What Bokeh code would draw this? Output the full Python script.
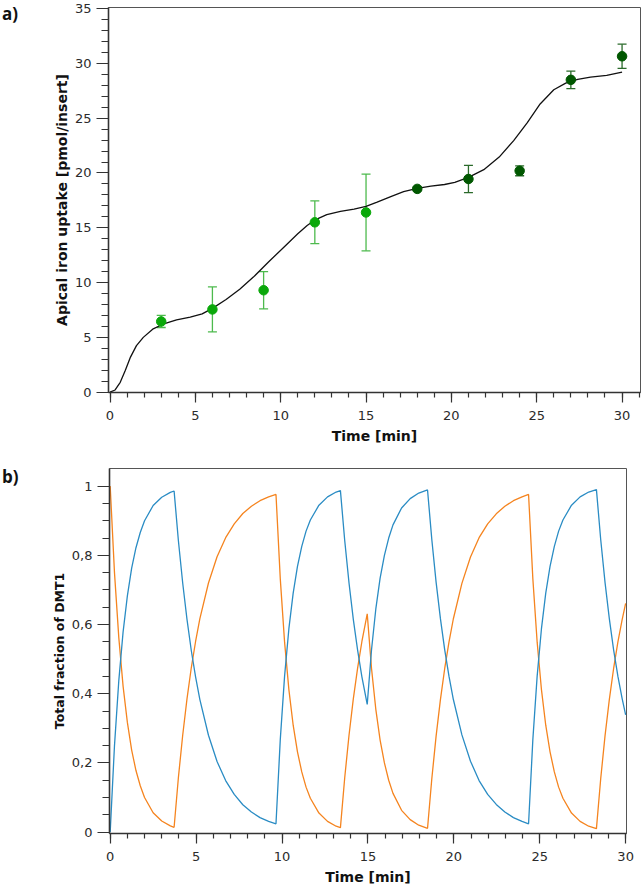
from bokeh.plotting import figure
from bokeh.layouts import column, row
from bokeh.models import (Range1d, SingleIntervalTicker, FixedTicker, Whisker, TeeHead,
                          ColumnDataSource, Div, CustomJSTickFormatter)
from bokeh.embed import file_html
from bokeh.resources import INLINE

# ---------------- data: panel a ----------------
t_early = [3, 6, 9, 12, 15]
uptake_early = [6.45, 7.55, 9.3, 15.5, 16.4]
err_early = [0.55, 2.05, 1.7, 1.95, 3.5]

t_late = [18, 21, 24, 27, 30]
uptake_late = [18.55, 19.45, 20.2, 28.5, 30.65]
err_late = [0.15, 1.25, 0.45, 0.8, 1.1]

t_fit = [0, 0.3, 0.6, 0.9, 1.2, 1.55, 1.95, 2.5, 3.1, 3.9, 4.7, 5.4, 6.0, 6.8, 7.6,
         8.4, 9.3, 10.2, 11.0, 11.55, 12.05, 12.7, 13.5, 14.3, 15.0, 15.65, 16.45, 17.2,
         18.0, 18.8, 19.6, 20.2, 21.0, 21.9, 22.8, 23.65, 24.45, 25.2, 26.0, 26.7, 27.4,
         28.15, 29.1, 30.0]
uptake_fit = [0, 0.2, 0.9, 2.0, 3.2, 4.25, 5.0, 5.75, 6.2, 6.6, 6.85, 7.15, 7.65, 8.45, 9.4,
              10.5, 11.9, 13.25, 14.45, 15.2, 15.75, 16.2, 16.5, 16.7, 16.95, 17.35, 17.85, 18.3,
              18.6, 18.8, 18.95, 19.15, 19.6, 20.3, 21.45, 22.95, 24.6, 26.3, 27.6, 28.2, 28.55,
              28.75, 28.9, 29.2]

# ---------------- data: panel b ----------------
t_model = [0, 0.25, 0.5, 0.75, 1.0, 1.25, 1.5, 1.75, 2.0, 2.5, 3.0, 3.5, 3.72,
           3.97, 4.22, 4.47, 4.72, 4.97, 5.22, 5.72, 6.22, 6.72, 7.22, 7.72, 8.22, 8.72, 9.22, 9.65,
           9.9, 10.15, 10.4, 10.65, 10.9, 11.15, 11.4, 11.65, 12.15, 12.65, 13.15, 13.4,
           13.65, 13.9, 14.15, 14.4, 14.65, 14.96,
           15.21, 15.46, 15.71, 15.96, 16.21, 16.46, 16.96, 17.46, 17.96, 18.47,
           18.72, 18.97, 19.22, 19.47, 19.72, 19.97, 20.47, 20.97, 21.47, 21.97, 22.47, 22.97,
           23.47, 23.97, 24.35,
           24.6, 24.85, 25.1, 25.35, 25.6, 25.85, 26.1, 26.35, 26.85, 27.35, 27.85, 28.3,
           28.55, 28.8, 29.05, 29.3, 29.55, 29.8, 30.0]
frac_blue = [0.000, 0.250, 0.437, 0.578, 0.683, 0.763, 0.822, 0.866, 0.900, 0.944, 0.968, 0.982, 0.986,
             0.842, 0.720, 0.615, 0.525, 0.449, 0.383, 0.280, 0.204, 0.149, 0.109, 0.079, 0.058, 0.042, 0.031, 0.024,
             0.268, 0.451, 0.588, 0.691, 0.768, 0.826, 0.870, 0.902, 0.945, 0.969, 0.983, 0.987,
             0.843, 0.720, 0.615, 0.526, 0.449, 0.369,
             0.527, 0.645, 0.734, 0.800, 0.850, 0.888, 0.937, 0.964, 0.980, 0.989,
             0.845, 0.722, 0.617, 0.527, 0.450, 0.384, 0.281, 0.205, 0.149, 0.109, 0.080, 0.058,
             0.042, 0.031, 0.024,
             0.268, 0.451, 0.588, 0.691, 0.768, 0.826, 0.870, 0.902, 0.945, 0.969, 0.983, 0.990,
             0.845, 0.722, 0.617, 0.527, 0.450, 0.385, 0.339]
frac_orange = [1.000, 0.750, 0.563, 0.422, 0.317, 0.237, 0.178, 0.134, 0.100, 0.056, 0.032, 0.018, 0.014,
               0.158, 0.280, 0.385, 0.475, 0.551, 0.617, 0.720, 0.796, 0.851, 0.891, 0.921, 0.942, 0.958, 0.969, 0.976,
               0.732, 0.549, 0.412, 0.309, 0.232, 0.174, 0.130, 0.098, 0.055, 0.031, 0.017, 0.013,
               0.157, 0.280, 0.385, 0.474, 0.551, 0.631,
               0.473, 0.355, 0.266, 0.200, 0.150, 0.112, 0.063, 0.036, 0.020, 0.011,
               0.155, 0.278, 0.383, 0.473, 0.550, 0.616, 0.719, 0.795, 0.851, 0.891, 0.920, 0.942,
               0.958, 0.969, 0.976,
               0.732, 0.549, 0.412, 0.309, 0.232, 0.174, 0.130, 0.098, 0.055, 0.031, 0.017, 0.010,
               0.155, 0.278, 0.383, 0.473, 0.550, 0.615, 0.661]

FONT = "DejaVu Sans"
TICK_COLOR = "#2b2b2b"
PANEL_W = 20


def style_axes(p, ytitle, ytitle_size):
    for ax in (p.xaxis[0], p.yaxis[0]):
        ax.axis_line_color = "#333333"
        ax.axis_line_width = 1.6
        ax.major_tick_line_color = "#333333"
        ax.minor_tick_line_color = "#333333"
        ax.major_tick_line_width = 1.2
        ax.minor_tick_line_width = 1.2
        ax.major_tick_in = 0
        ax.minor_tick_in = 0
        ax.major_label_text_font = FONT
        ax.major_label_text_font_size = "13px"
        ax.major_label_text_color = TICK_COLOR
        ax.axis_label_text_font = FONT
        ax.axis_label_text_font_style = "bold"
        ax.axis_label_text_color = "#111111"
    p.xaxis[0].major_tick_out = 10
    p.xaxis[0].minor_tick_out = 5
    p.yaxis[0].major_tick_out = 12
    p.yaxis[0].minor_tick_out = 7
    p.xaxis[0].major_label_standoff = 8
    p.yaxis[0].major_label_standoff = 5
    p.xaxis[0].axis_label = "Time [min]"
    p.xaxis[0].axis_label_text_font_size = "14px"
    p.xaxis[0].axis_label_standoff = 5
    p.yaxis[0].axis_label = ytitle
    p.yaxis[0].axis_label_text_font_size = ytitle_size
    p.yaxis[0].axis_label_standoff = 2
    p.xgrid.grid_line_color = None
    p.ygrid.grid_line_color = None
    p.outline_line_color = "#555555"
    p.outline_line_width = 1
    p.background_fill_color = "white"
    p.border_fill_color = "white"


def panel_tag(text, top_pad, height):
    return Div(text=text, width=PANEL_W, height=height, margin=(0, 0, 0, 0),
               styles={"font-family": "Open Sans", "font-weight": "bold", "font-size": "17px",
                       "color": "#111111", "padding-left": "2px",
                       "padding-top": "%dpx" % top_pad, "line-height": "20px"})


# ---------------- panel a ----------------
p1 = figure(frame_width=532, frame_height=385,
            min_border_left=108 - PANEL_W, min_border_right=3, min_border_top=7, min_border_bottom=58,
            x_range=Range1d(-0.088, 31.08), y_range=Range1d(-0.03, 35.1),
            output_backend="svg", toolbar_location=None)
style_axes(p1, "Apical iron uptake [pmol/insert]", "14px")
p1.xaxis[0].ticker = SingleIntervalTicker(interval=5, num_minor_ticks=5)
p1.yaxis[0].ticker = SingleIntervalTicker(interval=5, num_minor_ticks=5)

src_early = ColumnDataSource(dict(
    t=t_early, y=uptake_early,
    lo=[v - e for v, e in zip(uptake_early, err_early)],
    hi=[v + e for v, e in zip(uptake_early, err_early)]))
src_late = ColumnDataSource(dict(
    t=t_late, y=uptake_late,
    lo=[v - e for v, e in zip(uptake_late, err_late)],
    hi=[v + e for v, e in zip(uptake_late, err_late)]))

for src, ecol in ((src_early, "#4dba4d"), (src_late, "#2a6a2a")):
    w = Whisker(source=src, base="t", lower="lo", upper="hi", dimension="height",
                line_color=ecol, line_width=1.3,
                lower_head=TeeHead(size=9, line_color=ecol, line_width=1.3),
                upper_head=TeeHead(size=9, line_color=ecol, line_width=1.3))
    w.level = "underlay"
    p1.add_layout(w)

p1.line(t_fit, uptake_fit, line_color="#111111", line_width=1.3)
p1.scatter("t", "y", source=src_early, size=9.5, fill_color="#0aa80a", line_color="#0aa80a")
p1.scatter("t", "y", source=src_late, size=9.5, fill_color="#005700", line_color="#005700")

# ---------------- panel b ----------------
p2 = figure(frame_width=517, frame_height=365,
            min_border_left=109 - PANEL_W, min_border_right=18, min_border_top=18, min_border_bottom=51,
            x_range=Range1d(-0.04, 30.05), y_range=Range1d(-0.004, 1.051),
            output_backend="svg", toolbar_location=None)
style_axes(p2, "Total fraction of DMT1", "12.5px")
p2.xaxis[0].ticker = SingleIntervalTicker(interval=5, num_minor_ticks=5)
p2.yaxis[0].ticker = FixedTicker(ticks=[0, 0.2, 0.4, 0.6, 0.8, 1.0],
                                 minor_ticks=[0.05, 0.1, 0.15, 0.25, 0.3, 0.35, 0.45, 0.5, 0.55,
                                              0.65, 0.7, 0.75, 0.85, 0.9, 0.95])
p2.yaxis[0].formatter = CustomJSTickFormatter(
    code="return tick.toFixed(1).replace('.0', '').replace('.', ',');")

p2.line(t_model, frac_orange, line_color="#f5841f", line_width=1.3)
p2.line(t_model, frac_blue, line_color="#2a8cc4", line_width=1.3)

tag_a = panel_tag("a)", 4, 40)
tag_b = panel_tag("b)", 17, 50)

layout = column(row(tag_a, p1, spacing=0), row(tag_b, p2, spacing=0), spacing=0)
open("out.html", "w").write(file_html(layout, INLINE))
